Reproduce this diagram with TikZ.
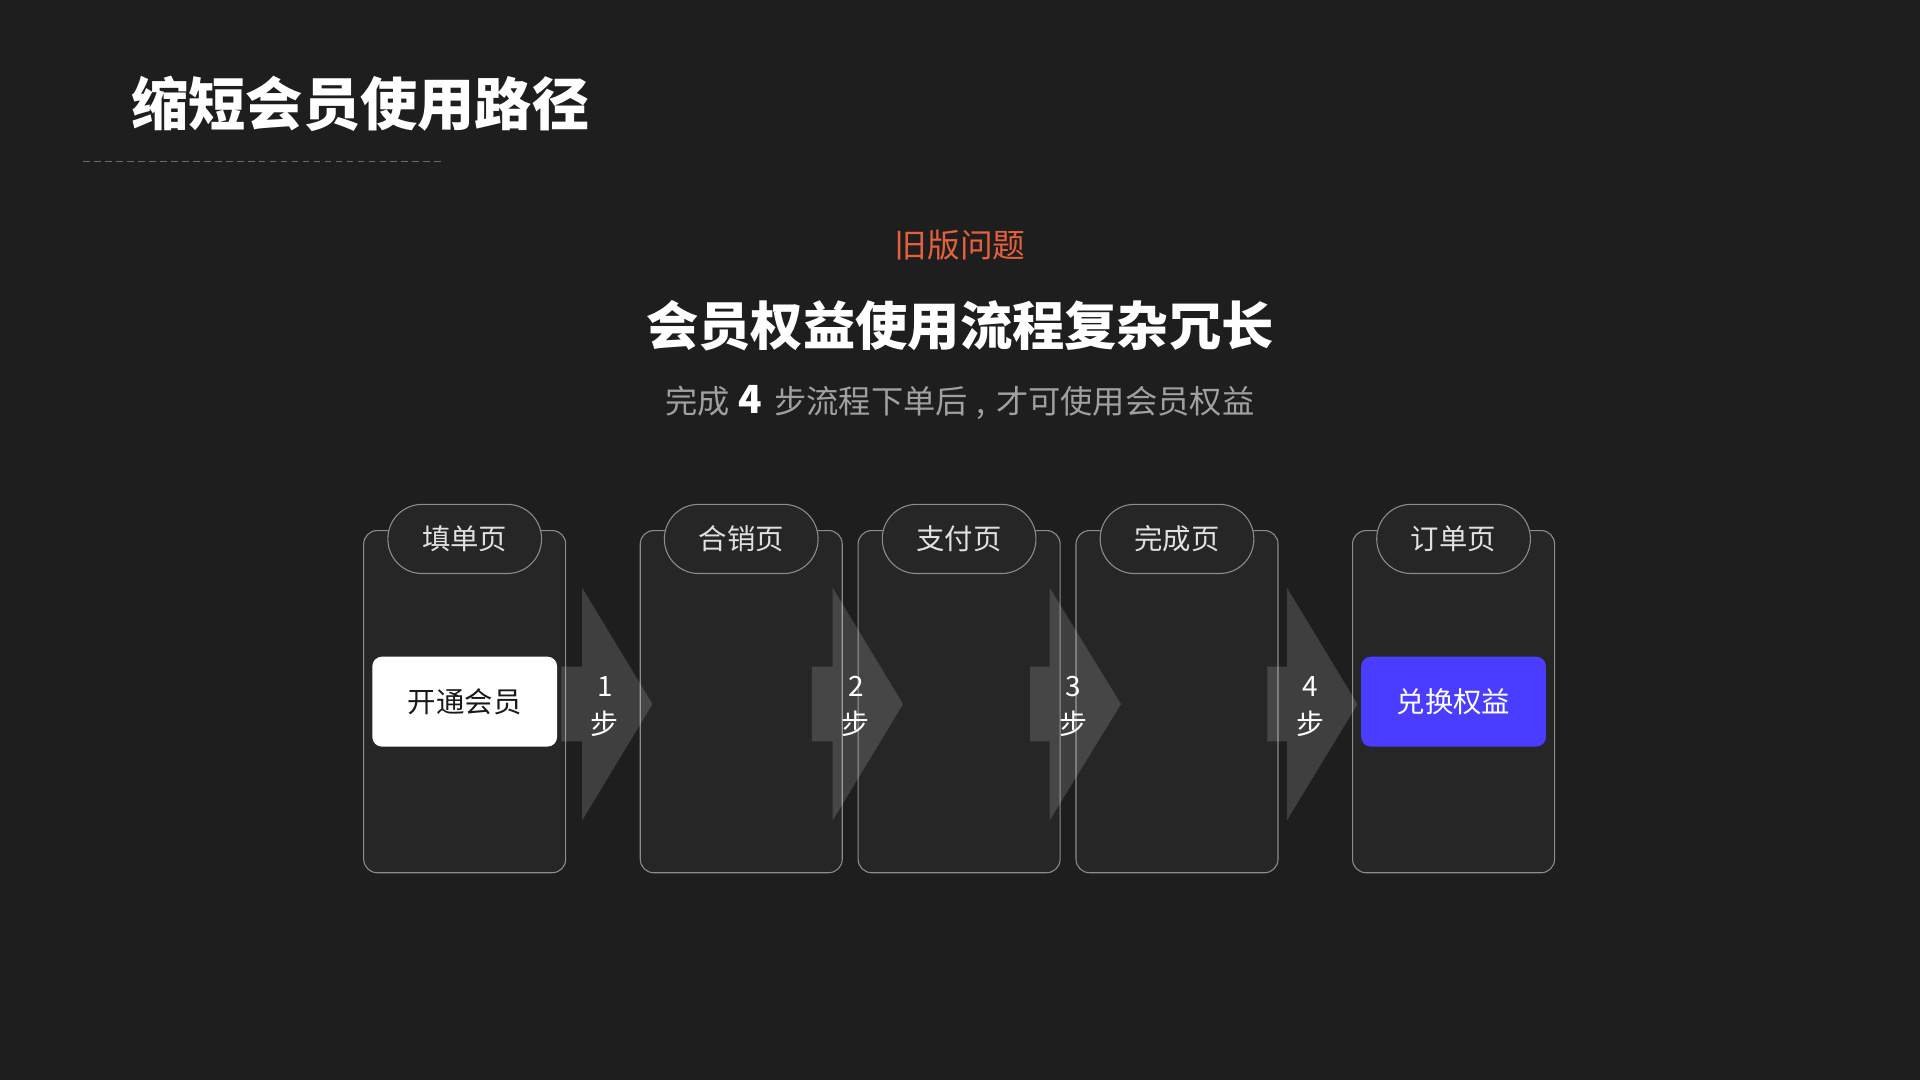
\documentclass[tikz,border=0pt]{standalone}
\usepackage{fontspec}
\setmainfont{Noto Sans CJK SC}
\usetikzlibrary{positioning}
\definecolor{bgdark}{HTML}{1E1E1E}
\definecolor{cardfill}{HTML}{262626}
\definecolor{cardline}{HTML}{8C8C8C}
\definecolor{ruleline}{HTML}{6A6A6A}
\definecolor{hintred}{HTML}{E5603D}
\definecolor{subgray}{HTML}{A0A0A0}
\definecolor{swapblue}{HTML}{4A3DFF}
\tikzset{
page/.style={draw=cardline, fill=cardfill, line width=0.5pt, rounded corners=0.22cm,
  minimum width=3.3cm, minimum height=5.59cm, inner sep=0pt},
tag/.style={draw=cardline, fill=cardfill, line width=0.5pt, rounded corners=0.56cm,
  minimum width=2.51cm, minimum height=1.13cm, inner sep=0pt, text=white!88!black,
  font=\fontsize{13.2}{16}\selectfont},
action/.style={rounded corners=0.16cm, minimum width=3.02cm, minimum height=1.47cm,
  inner sep=0pt, font=\fontsize{13.2}{16}\selectfont},
stepfill/.style={fill=white, fill opacity=0.15},
steptext/.style={align=center, text=white, inner sep=0pt, font=\fontsize{13}{17.6}\selectfont},
}
\begin{document}
\begin{tikzpicture}[x=0.02cm, y=-0.02cm]
\fill[bgdark] (0,0) rectangle (1568,882);
\useasboundingbox (0,0) rectangle (1568,882);
\node[anchor=west, inner sep=0pt, text=white, font=\bfseries\fontsize{26.6}{30}\selectfont] (title) at (107,85) {缩短会员使用路径};
\coordinate (ruleL) at (68,132);
\coordinate (ruleR) at (361,132);
\draw[ruleline, line width=0.5pt, dash pattern=on 3.1pt off 2pt] (ruleL) -- (ruleR);
\node[text=hintred, font=\fontsize{15.2}{18}\selectfont] (old) at (784,200) {旧版问题};
\node[text=white, font=\bfseries\fontsize{24.3}{28}\selectfont] (head) at (784,266) {会员权益使用流程复杂冗长};
\node[text=subgray, font=\fontsize{15}{18}\selectfont] (sub) at (784,329) {完成\hspace{4pt}{\bfseries\color{white}\fontsize{18}{18}\selectfont 4}\hspace{5.5pt}步流程下单后\hspace{4pt},\hspace{5pt}才可使用会员权益};
\node[page] (p1) at (379.5,573) {};
\node[page, right=1.2cm of p1] (p2) {};
\node[page, right=0.242cm of p2] (p3) {};
\node[page, right=0.242cm of p3] (p4) {};
\node[page, right=1.2cm of p4] (p5) {};
\node[tag] (t1) at ([yshift=-0.146cm]p1.north) {填单页};
\node[tag] (t2) at ([yshift=-0.146cm]p2.north) {合销页};
\node[tag] (t3) at ([yshift=-0.146cm]p3.north) {支付页};
\node[tag] (t4) at ([yshift=-0.146cm]p4.north) {完成页};
\node[tag] (t5) at ([yshift=-0.146cm]p5.north) {订单页};
\node[action, fill=white, text=black!90] (a1) at (p1) {开通会员};
\node[action, fill=swapblue, text=white] (a5) at (p5) {兑换权益};
\fill[stepfill] (458.5,544.5) -- (475.4,544.5) -- (475.4,480) -- (532.9,575) -- (475.4,670) -- (475.4,605.5) -- (458.5,605.5) -- cycle;
\fill[stepfill] (663,544.5) -- (680,544.5) -- (680,480) -- (737.5,575) -- (680,670) -- (680,605.5) -- (663,605.5) -- cycle;
\fill[stepfill] (841.2,544.5) -- (857.2,544.5) -- (857.2,480) -- (915.5,575) -- (857.2,670) -- (857.2,605.5) -- (841.2,605.5) -- cycle;
\fill[stepfill] (1035,544.5) -- (1051,544.5) -- (1051,480) -- (1108.6,575) -- (1051,670) -- (1051,605.5) -- (1035,605.5) -- cycle;
\node[steptext] (s1) at (494,577) {1\\步};
\node[steptext] (s2) at (699,577) {2\\步};
\node[steptext] (s3) at (876.5,577) {3\\步};
\node[steptext] (s4) at (1070,577) {4\\步};
\end{tikzpicture}
\end{document}
